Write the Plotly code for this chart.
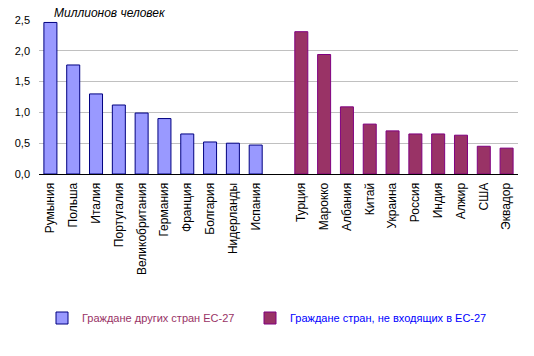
import plotly.graph_objects as go

eu_countries = ["Румыния", "Польша", "Италия", "Португалия", "Великобритания",
                "Германия", "Франция", "Болгария", "Нидерланды", "Испания"]
eu_values = [2.46, 1.77, 1.30, 1.12, 0.99, 0.90, 0.65, 0.52, 0.50, 0.47]

non_eu_countries = ["Турция", "Марокко", "Албания", "Китай", "Украина",
                    "Россия", "Индия", "Алжир", "США", "Эквадор"]
non_eu_values = [2.31, 1.94, 1.09, 0.81, 0.70, 0.65, 0.65, 0.63, 0.45, 0.42]

gap = " "
categories = eu_countries + [gap] + non_eu_countries
y_ticks = [0, 0.5, 1.0, 1.5, 2.0, 2.5]

FONT = "Liberation Sans, Arial, sans-serif"

fig = go.Figure()
fig.add_trace(go.Bar(
    x=eu_countries, y=eu_values,
    name="<span style='color:#993366'>Граждане других стран ЕС-27</span>",
    marker=dict(color="#9999FF", line=dict(color="#000080", width=1)),
    width=0.57, legend="legend",
))
fig.add_trace(go.Bar(
    x=non_eu_countries, y=non_eu_values,
    name="<span style='color:#0000FF'>Граждане стран, не входящих в ЕС-27</span>",
    marker=dict(color="#993366", line=dict(color="#800080", width=1)),
    width=0.57, legend="legend2",
))
fig.add_trace(go.Bar(x=[gap], y=[None], showlegend=False, hoverinfo="skip"))

legend_common = dict(
    orientation="h", xanchor="left", yanchor="middle",
    xref="container", yref="container", y=1 - 318 / 356,
    font=dict(size=11), itemwidth=30, bgcolor="rgba(0,0,0,0)",
)

fig.update_layout(
    width=534, height=356,
    margin=dict(l=39, r=16, t=20, b=182, autoexpand=False),
    paper_bgcolor="white", plot_bgcolor="white",
    barmode="overlay",
    separators=", ",
    font=dict(family=FONT, size=11, color="black"),
    showlegend=True,
    legend=dict(x=42 / 534, **legend_common),
    legend2=dict(x=250 / 534, **legend_common),
    xaxis=dict(
        type="category", categoryorder="array", categoryarray=categories,
        range=[-0.5, len(categories) - 0.5], automargin=False,
        tickangle=-90, showline=True, linecolor="black", linewidth=1,
        ticks="", showgrid=False, tickfont=dict(size=12), ticklabelstandoff=3,
    ),
    yaxis=dict(
        range=[0, 2.5], tickvals=y_ticks, tickformat=".1f", automargin=False,
        showgrid=True, gridcolor="#C0C0C0", gridwidth=1,
        zeroline=False, showline=False, ticks="", tickfont=dict(size=11),
        ticklabelstandoff=8,
    ),
    annotations=[dict(
        text="<i>Миллионов человек</i>", x=13 / 479, y=1.0, xref="paper", yref="paper",
        xanchor="left", yanchor="bottom", showarrow=False,
        font=dict(size=12, color="black"), yshift=-2,
    )],
)

fig.write_html(
    "out.html",
    config={"displayModeBar": False},
    post_script="document.body.style.margin='0';document.body.style.overflow='hidden';",
)
